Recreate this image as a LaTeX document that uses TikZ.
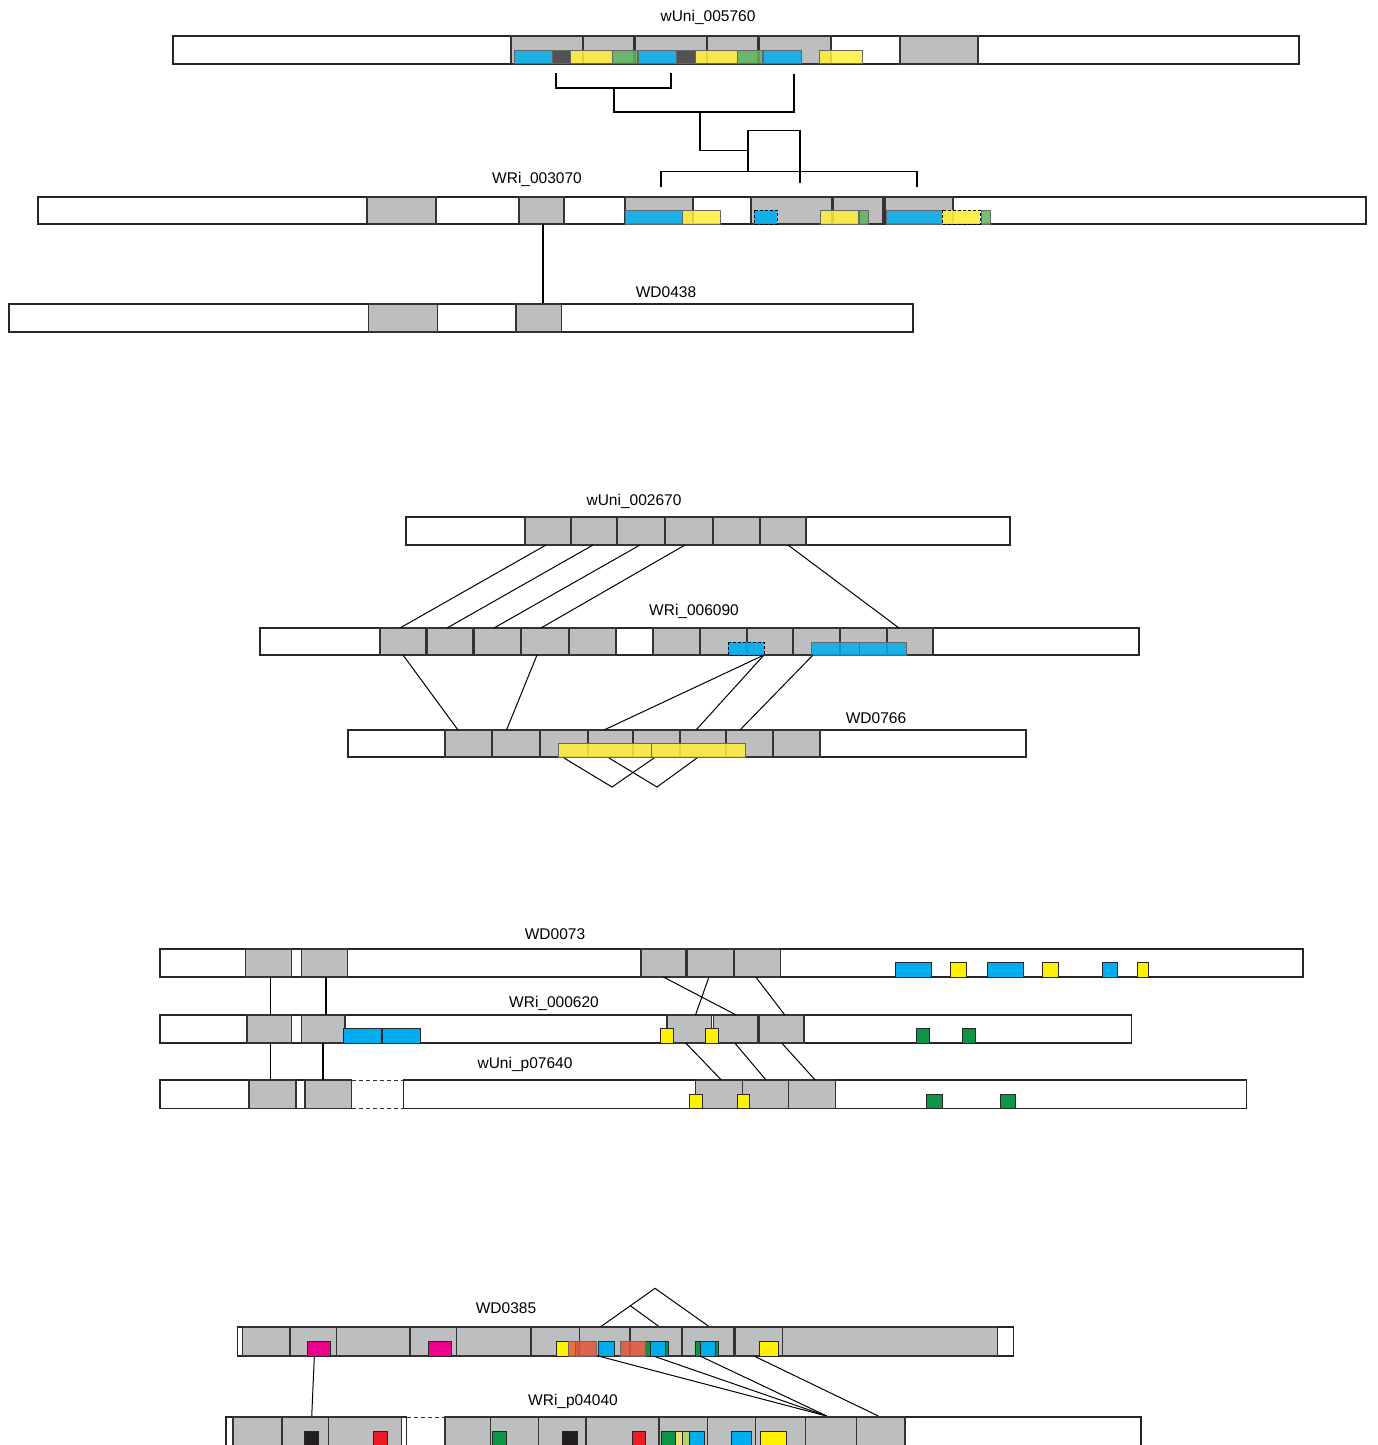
\documentclass[tikz,border=0pt]{standalone}
\usepackage{fontspec}
\setmainfont{Liberation Sans}
\definecolor{blkgray}{HTML}{BCBEC0}
\definecolor{dcyan}{HTML}{00AEEF}
\definecolor{dyellow}{HTML}{FFEF3A}
\definecolor{byellow}{HTML}{FFF200}
\definecolor{lgreen}{HTML}{5FB55A}
\definecolor{dgreen}{HTML}{0E9447}
\definecolor{dgray}{HTML}{404041}
\definecolor{dmag}{HTML}{EC008C}
\definecolor{dred}{HTML}{ED1C24}
\definecolor{dorange}{HTML}{E4543A}
\definecolor{orng}{HTML}{F26522}
\definecolor{dblack}{HTML}{231F20}
\definecolor{pyellow}{HTML}{EDE27A}
\definecolor{pgreen}{HTML}{B5D56A}
\begin{document}
\begin{tikzpicture}[x=1pt,y=-1pt,
  bar/.style={draw=black!85,line width=1.2pt,fill=white},
  blkbox/.style={draw=black!80,line width=1.1pt,fill=blkgray},
  lnk/.style={draw=black,line width=1pt},
  brk/.style={draw=black,line width=1.8pt},
  lbl/.style={font=\fontsize{15.5}{18}\selectfont,inner sep=0pt},
  tbox/.style={draw=black!60,line width=0.8pt,fill opacity=0.85},
  sbox/.style={draw=black!85,line width=0.9pt},
  dbox/.style={draw=black,line width=1pt,dash pattern=on 3pt off 2pt,fill opacity=0.9},
  dline/.style={draw=black!80,line width=1pt,dash pattern=on 4pt off 3pt}]
\useasboundingbox (0,0) rectangle (1377,1445);
\clip (0,0) rectangle (1377,1445);

% ---------------- group 1: wUni_005760 / WRi_003070 / WD0438 ----------------
\node[lbl] (n5760) at (708,17) {wUni\_005760};
\draw[bar] (173,36) rectangle (1299,64);
\foreach \a/\b in {511/583,583/634,635/707,707/758,759/831,900/978}
  \draw[blkbox] (\a,36) rectangle (\b,64);
\foreach \a/\b/\c in {514/552/dcyan,552/570/dgray,570/612/dyellow,612/637/lgreen,
                      638/676/dcyan,676/695/dgray,695/737/dyellow,737/762/lgreen,
                      763/801/dcyan,819/862/dyellow}
  \draw[tbox,fill=\c] (\a,50) rectangle (\b,63.5);

% nested brackets
\draw[brk] (556,73) -- (556,88) -- (671,88) -- (671,73);
\draw[brk] (614,88) -- (614,112) -- (794,112) -- (794,74);
\draw[lnk,line width=1.3pt] (700,112) -- (700,150.5) -- (748,150.5);
\draw[lnk,line width=1.3pt] (748,171.5) -- (748,130.5) -- (800,130.5) -- (800,183);
\draw[brk] (661,187) -- (661,171.5) -- (917,171.5) -- (917,187);

\node[lbl] (n3070) at (537,179) {WRi\_003070};
\draw[bar] (38,197) rectangle (1366,224);
\foreach \a/\b in {367/436,519/564,625/693,751/832,833/883,885/953}
  \draw[blkbox] (\a,197) rectangle (\b,224);
\foreach \a/\b/\c in {625/682/dcyan,682/720/dyellow,820/858/dyellow,859/868/lgreen,
                      886/942/dcyan,981/990/lgreen}
  \draw[tbox,fill=\c] (\a,210) rectangle (\b,224);
\draw[dbox,fill=dcyan] (754,210) rectangle (777,224);
\draw[dbox,fill=dyellow] (942,210) rectangle (980,224);

\draw[lnk,line width=1.4pt] (543,224) -- (543,304);

\node[lbl] (n0438) at (666,292) {WD0438};
\draw[bar] (9,304) rectangle (913,332);
\foreach \a/\b in {368.5/437.4,516/561.4}
  \draw[blkbox] (\a,304) rectangle (\b,332);

% ---------------- group 2: wUni_002670 / WRi_006090 / WD0766 ----------------
\node[lbl] (n2670) at (634,501) {wUni\_002670};
\draw[bar] (406,517) rectangle (1010,545);
\foreach \a/\b in {525/571,571/617,617/665,665/713,713/760,760/806}
  \draw[blkbox] (\a,517) rectangle (\b,545);

\node[lbl] (n6090) at (694,611) {WRi\_006090};
\draw[bar] (260,628) rectangle (1139,655);
\foreach \a/\b in {380/426,427/473,474/521,521/569,569/616,
                   653/700,700/747,747/793,793/840,840/887,887/933}
  \draw[blkbox] (\a,628) rectangle (\b,655);
\draw[dbox,fill=dcyan] (728,642) rectangle (764,655);
\draw[tbox,fill=dcyan] (811.5,642) rectangle (859,655);
\draw[tbox,fill=dcyan] (859,642) rectangle (906,655);

\draw[lnk] (546,545) -- (400,628);
\draw[lnk] (593,545) -- (447,628);
\draw[lnk] (640,545) -- (494,628);
\draw[lnk] (685,545) -- (541,628);
\draw[lnk] (788,545) -- (899,628);

\node[lbl] (n0766) at (876,718) {WD0766};
\draw[bar] (348,730) rectangle (1026,757);
\foreach \a/\b in {445/492,492/540,540/588,588/633,633/680,680/726,726/773,773/820}
  \draw[blkbox] (\a,730) rectangle (\b,757);
\draw[tbox,fill=dyellow] (558,743.5) rectangle (651,757);
\draw[tbox,fill=dyellow] (651,743.5) rectangle (745.5,757);

\draw[lnk] (403,655) -- (458,730);
\draw[lnk] (537,655) -- (506.5,730);
\draw[lnk] (764,655) -- (604,730);
\draw[lnk] (764,655) -- (696,730);
\draw[lnk] (813,655) -- (740,730);

\draw[lnk] (564,758) -- (612,787) -- (654,758);
\draw[lnk] (609,758) -- (657,787) -- (697,758);

% ---------------- group 3: WD0073 / WRi_000620 / wUni_p07640 ----------------
\node[lbl] (n0073) at (555,934) {WD0073};
\draw[bar] (160,949) rectangle (1303,977);
\foreach \a/\b in {245.5/291.5,301.3/347.3,641/685.7,687/733.5,734.8/780.4}
  \draw[blkbox] (\a,949) rectangle (\b,977);
\foreach \a/\b/\c in {895.3/931.3/dcyan,950/966/byellow,987.3/1023.7/dcyan,
                      1042.3/1058.7/byellow,1102.7/1117.7/dcyan,1137.3/1148.7/byellow}
  \draw[sbox,fill=\c] (\a,962.3) rectangle (\b,977);

\node[lbl] (n0620) at (554,1003) {WRi\_000620};
\draw[bar] (160,1015) rectangle (1131.5,1043);
\foreach \a/\b in {247/291.5,301.3/345,667/711.6,713.4/758,759.4/804}
  \draw[blkbox] (\a,1015) rectangle (\b,1043);
\foreach \a/\b/\c in {343/381.3/dcyan,382/420.5/dcyan,660.3/673.2/byellow,
                      705.8/718.3/byellow,916.7/929/dgreen,962.3/975/dgreen}
  \draw[sbox,fill=\c] (\a,1028.3) rectangle (\b,1043);

\node[lbl] (n7640) at (525,1064) {wUni\_p07640};
\draw[bar] (160,1080) rectangle (351.8,1108.3);
\draw[dline] (351.8,1080) -- (403.6,1080);
\draw[dline] (351.8,1108.3) -- (403.6,1108.3);
\draw[bar] (403.6,1080) rectangle (1246.5,1108.3);
\foreach \a/\b in {249/296,305/351.8,695.5/742.4,742.4/788.8,788.8/835.7}
  \draw[blkbox] (\a,1080) rectangle (\b,1108.3);
\foreach \a/\b/\c in {689.3/702.2/byellow,737/749.1/byellow,926.7/942/dgreen,1000.7/1015.7/dgreen}
  \draw[sbox,fill=\c] (\a,1094) rectangle (\b,1108.3);

\draw[lnk,line width=1.4pt] (270.5,977) -- (270.5,1015);
\draw[lnk,line width=1.4pt] (325.9,977) -- (325.9,1015);
\draw[lnk,line width=1.4pt] (270.5,1043) -- (270.5,1080);
\draw[lnk,line width=1.4pt] (322.8,1043) -- (322.8,1080);
\draw[lnk] (663.4,977) -- (736.2,1015);
\draw[lnk] (708.9,977) -- (695.5,1015);
\draw[lnk] (755.8,977) -- (784.8,1015);
\draw[lnk] (685.7,1043) -- (721.4,1080);
\draw[lnk] (734.8,1043) -- (766,1080);
\draw[lnk] (781.7,1043) -- (815.2,1080);

% ---------------- group 4: WD0385 / WRi_p04040 ----------------
\node[lbl] (n0385) at (506,1308) {WD0385};
\draw[bar] (237.3,1327) rectangle (1013.3,1356);
\foreach \a/\b in {242.7/290,290/336.7,336.7/410,410/456.7,456.7/531,531/579.3,
                   579.3/630,630/682,682/733.3,735/782.7,782.7/997.3}
  \draw[blkbox] (\a,1327) rectangle (\b,1356);
\foreach \a/\b/\c in {307.3/330.7/dmag,428/451/dmag,556/568.3/byellow,
                      645/668.3/dgreen,695.7/718.3/dgreen,759/778.3/byellow}
  \draw[sbox,fill=\c] (\a,1341.7) rectangle (\b,1356);
\draw[tbox,fill=orng] (568.3,1341.7) rectangle (578,1356);
\draw[tbox,fill=dorange] (575,1341.7) rectangle (596.7,1356);
\draw[sbox,fill=dcyan] (598.3,1341.7) rectangle (614,1356);
\draw[tbox,fill=dorange] (620,1341.7) rectangle (645,1356);
\draw[sbox,fill=dcyan] (650,1341.7) rectangle (665.7,1356);
\draw[sbox,fill=dcyan] (700,1341.7) rectangle (715.7,1356);

\draw[lnk] (601.7,1326) -- (655,1288.3) -- (708.3,1326);
\draw[lnk] (630.7,1306) -- (658.3,1326);

\draw[lnk] (598.3,1356) -- (826.7,1416);
\draw[lnk] (653.3,1356) -- (826.7,1416);
\draw[lnk] (700,1356) -- (826.7,1416);
\draw[lnk] (755,1356.5) -- (878.3,1416);
\draw[lnk] (314.3,1357) -- (311.7,1417);

\node[lbl] (p4040) at (573,1401) {WRi\_p04040};
\draw[bar] (226,1417) rectangle (406.7,1460);
\draw[dline] (406.7,1417) -- (445,1417);
\draw[bar] (445,1417) rectangle (1141,1460);
\foreach \a/\b in {233/282,282/328.4,328.4/401.7,
                   445/490.5,490.5/538.4,538.4/586,586/659,659/707.5,707.5/755.6,
                   755.6/805.4,805.4/856.4,856.4/905}
  \draw[blkbox] (\a,1417) rectangle (\b,1460);
\foreach \a/\b/\c in {304/318/dblack,373.3/387.5/dred,492.5/506/dgreen,562.8/577/dblack,
                      632/645.5/dred,661.8/675.3/dgreen,675.3/682.7/pyellow,682.7/689/pgreen,
                      689/704/dcyan,731.2/751.2/dcyan,760/786.3/byellow}
  \draw[sbox,fill=\c] (\a,1431.5) rectangle (\b,1460);
\end{tikzpicture}
\end{document}
